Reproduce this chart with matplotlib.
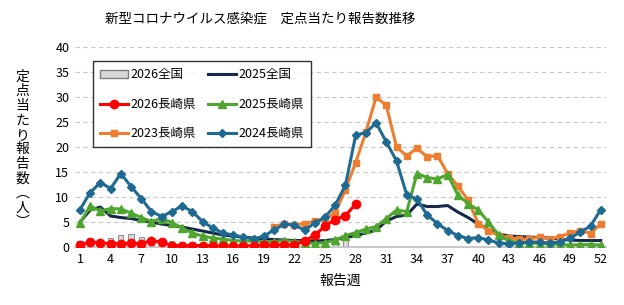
import numpy as np
import matplotlib
matplotlib.use('Agg')
import matplotlib.pyplot as plt
from matplotlib.patches import Patch
from matplotlib.lines import Line2D

plt.rcParams['font.family'] = ['Noto Sans CJK JP', 'DejaVu Sans']

weeks = np.arange(1, 53)

# 2026 national (bars), weeks 1-27
zenkoku_2026 = [1.2, 1.1, 1.5, 1.9, 2.5, 2.7, 2.1, 1.4, 1.3, 1.2, 1.1, 1.1, 0.9,
                0.8, 0.7, 0.6, 0.6, 0.5, 0.5, 0.5, 0.5, 0.5, 0.6, 0.6, 0.7, 0.9, 1.4]

# 2025 national (line)
zenkoku_2025 = [5.0, 7.4, 8.0, 6.2, 5.9, 5.7, 5.3, 5.0, 4.6, 4.3, 4.0, 3.6, 3.2,
                2.8, 2.4, 2.2, 2.0, 1.8, 1.6, 1.5, 1.4, 1.3, 1.3, 1.2, 1.3, 1.5,
                1.9, 2.3, 2.8, 3.4, 5.2, 6.1, 6.4, 8.6, 8.1, 8.1, 8.3, 7.0, 5.9,
                4.6, 3.5, 2.6, 2.2, 2.1, 2.0, 1.9, 1.8, 1.6, 1.4, 1.3, 1.3, 1.3]

# 2026 Nagasaki, weeks 1-28
nagasaki_2026 = [0.4, 1.0, 0.8, 0.7, 0.7, 0.8, 0.7, 1.3, 1.0, 0.3, 0.3, 0.3, 0.3,
                 0.3, 0.2, 0.2, 0.2, 0.3, 0.4, 0.4, 0.5, 0.4, 1.2, 2.4, 4.2, 5.5,
                 6.3, 8.6]

# 2025 Nagasaki
nagasaki_2025 = [4.8, 8.2, 7.2, 7.7, 7.6, 6.8, 5.9, 5.1, 5.7, 4.9, 3.8, 2.8, 2.2,
                 1.8, 1.6, 1.3, 1.2, 1.2, 1.1, 1.1, 1.3, 1.1, 0.9, 0.7, 0.9, 1.4,
                 2.3, 2.9, 3.6, 4.1, 5.7, 7.4, 7.1, 14.7, 13.9, 13.6, 14.5, 10.4,
                 8.7, 7.4, 5.0, 2.4, 1.2, 0.9, 0.8, 0.7, 0.6, 0.5, 0.4, 0.5, 0.5, 0.4]

# 2023 Nagasaki, from week 20
nagasaki_2023 = [None] * 19 + [4.1, 4.6, 4.5, 4.7, 5.2, 5.5, 6.9, 11.5, 16.9, 23.0,
                               30.0, 28.3, 20.0, 18.2, 19.8, 18.0, 18.3, 14.7, 12.2,
                               9.4, 4.7, 3.3, 2.3, 1.9, 1.6, 1.6, 2.0, 1.6, 2.1,
                               2.8, 3.3, 2.7, 4.7]

# 2024 Nagasaki
nagasaki_2024 = [7.5, 10.9, 12.9, 11.7, 14.7, 12.1, 9.7, 7.1, 6.1, 7.1, 8.2, 7.1,
                 5.1, 3.8, 2.8, 2.4, 2.0, 1.6, 2.2, 3.4, 4.6, 4.4, 3.4, 4.8, 6.0,
                 8.4, 12.4, 22.4, 22.9, 24.8, 21.0, 17.2, 10.4, 9.6, 6.4, 4.7,
                 3.3, 2.3, 1.7, 1.9, 1.4, 0.8, 0.7, 0.8, 1.0, 1.0, 0.8, 1.0,
                 1.8, 3.0, 4.2, 7.5]

c_bar = "#D9D9D9"
c_nat = "#17294A"
c_red = "#FF0000"
c_grn = "#4FA62F"
c_org = "#ED7D31"
c_blu = "#1F6A93"

fig = plt.figure(figsize=(6.24, 3.05), dpi=100)
ax = fig.add_axes([0.120, 0.190, 0.851, 0.656])

ax.bar(weeks[:len(zenkoku_2026)], zenkoku_2026, width=0.5, color=c_bar,
       edgecolor="#7F7F7F", linewidth=0.6, zorder=2)
ax.plot(weeks, zenkoku_2025, color=c_nat, lw=2.2, zorder=3)
y23 = np.array([np.nan if v is None else v for v in nagasaki_2023])
ax.plot(weeks, y23, color=c_org, lw=2.2, marker="s", ms=5, zorder=4)
ax.plot(weeks, nagasaki_2025, color=c_grn, lw=2.2, marker="^", ms=5.5, zorder=5)
ax.plot(weeks, nagasaki_2024, color=c_blu, lw=2.2, marker="D", ms=4.5, zorder=6)
ax.plot(weeks[:len(nagasaki_2026)], nagasaki_2026, color=c_red, lw=2.2,
        marker="o", ms=6, zorder=7)

ax.set_xlim(0.5, 52.5)
ax.set_ylim(0, 40)
ax.set_xticks(np.arange(1, 53, 3))
ax.set_yticks(np.arange(0, 41, 5))
ax.tick_params(axis="both", length=0, labelsize=9, pad=4)
ax.yaxis.grid(True, color="#C8C8C8", linestyle=(0, (4, 3)), linewidth=0.8)
ax.set_axisbelow(True)
for s in ["top", "right", "left"]:
    ax.spines[s].set_visible(False)
ax.spines["bottom"].set_color("#BFBFBF")
ax.spines["bottom"].set_linewidth(1.2)

ax.set_xlabel("報告週", fontsize=10, labelpad=6)
fig.text(0.417, 0.94, "新型コロナウイルス感染症　定点当たり報告数推移",
         ha="center", va="center", fontsize=9.7)
fig.text(0.036, 0.51, "\n".join("定点当たり報告数︵人︶"), ha="center",
         va="center", fontsize=10, linespacing=1.05)

handles = [
    Patch(facecolor=c_bar, edgecolor="#7F7F7F", label="2026全国"),
    Line2D([], [], color=c_red, lw=2.2, marker="o", ms=6, label="2026長崎県"),
    Line2D([], [], color=c_org, lw=2.2, marker="s", ms=5, label="2023長崎県"),
    Line2D([], [], color=c_nat, lw=2.2, label="2025全国"),
    Line2D([], [], color=c_grn, lw=2.2, marker="^", ms=5.5, label="2025長崎県"),
    Line2D([], [], color=c_blu, lw=2.2, marker="D", ms=4.5, label="2024長崎県"),
]
leg = ax.legend(handles=handles, ncol=2, loc="upper left",
                bbox_to_anchor=(0.034, 0.93), borderaxespad=0, fontsize=9,
                frameon=True, fancybox=False, labelspacing=1.3,
                columnspacing=1.0, handlelength=2.2, handletextpad=0.2,
                borderpad=0.6, handleheight=0.6)
leg.get_frame().set_edgecolor("black")
leg.get_frame().set_linewidth(1.0)

fig.savefig("out.png", dpi=100)
